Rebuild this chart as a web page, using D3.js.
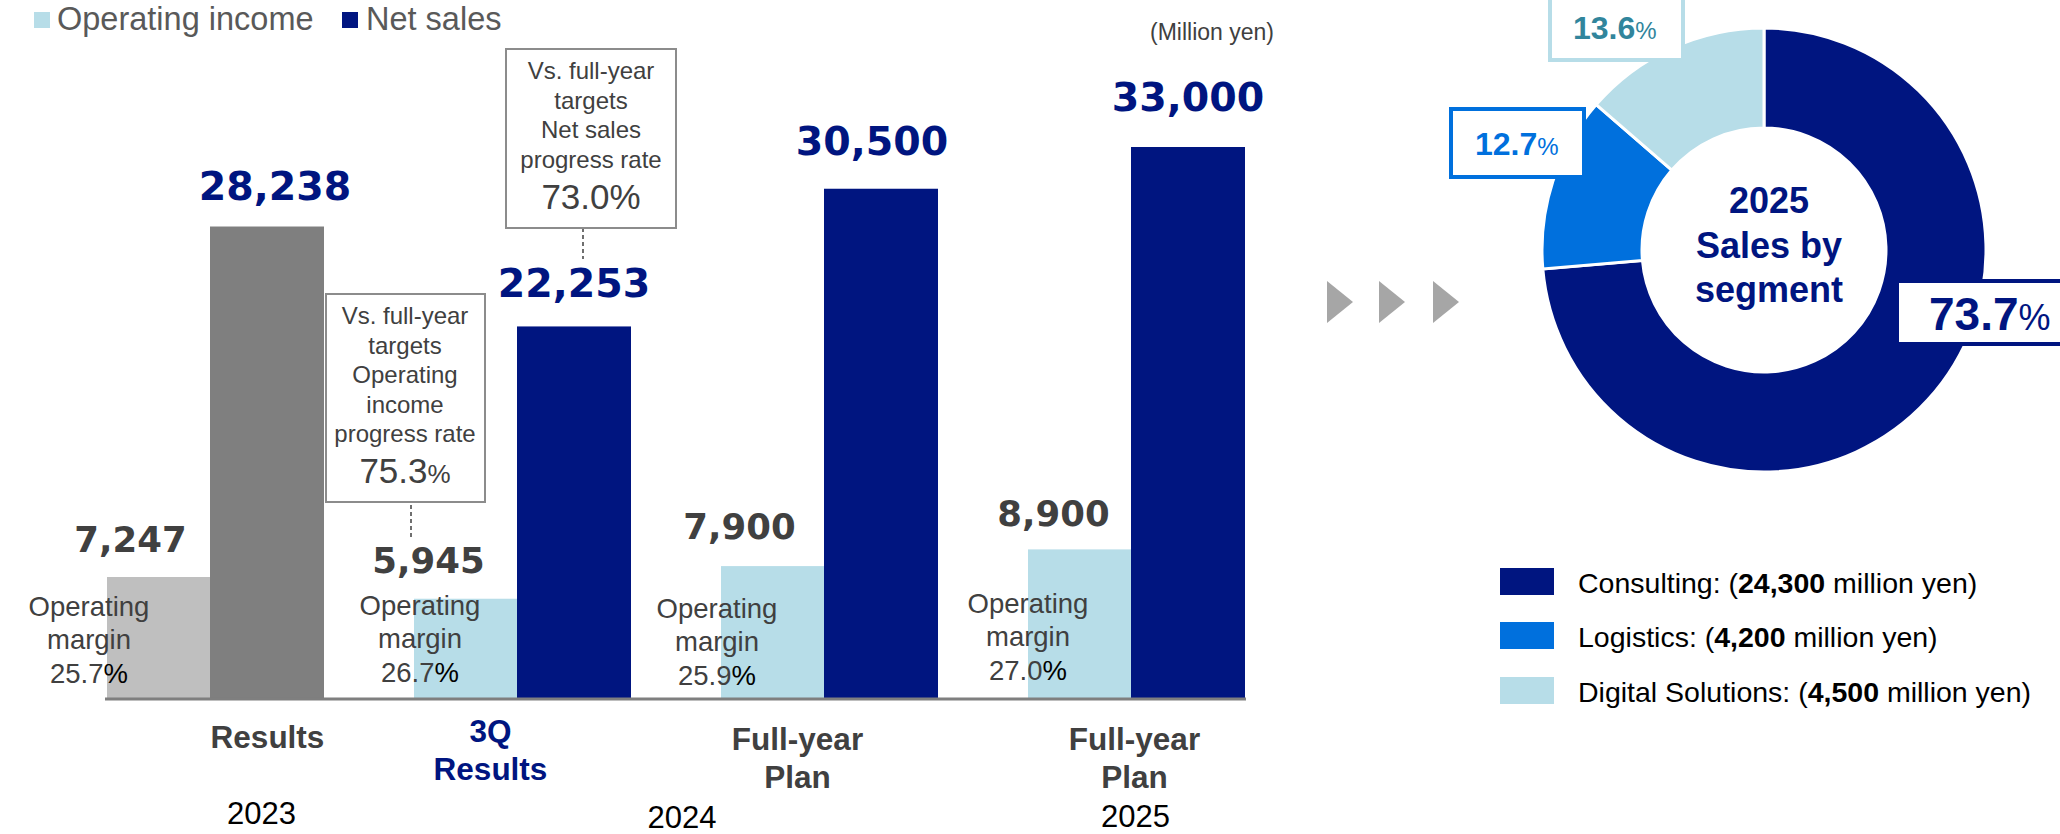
<!DOCTYPE html>
<html>
<head>
<meta charset="utf-8">
<script src="https://cdn.jsdelivr.net/npm/d3@7"></script>
<style>
  html, body { margin: 0; padding: 0; background: #fff; }
  svg { display: block; }
  text { font-family: "Liberation Sans", Arial, sans-serif; }
</style>
</head>
<body>
<svg id="chart" width="2060" height="834"></svg>
<script>
// ---------------- DATA ----------------
const categories = ["2023 Results", "2024 3Q Results", "2024 Full-year Plan", "2025 Full-year Plan"];
const categoryLines = [["Results"], ["3Q", "Results"], ["Full-year", "Plan"], ["Full-year", "Plan"]];
const netSales = [28238, 22253, 30500, 33000];
const operatingIncome = [7247, 5945, 7900, 8900];
const operatingMargin = ["25.7", "26.7", "25.9", "27.0"];
const years = ["2023", "2024", "2025"];
const progressOperatingIncome = "75.3";
const progressNetSales = "73.0";
const seriesNames = ["Operating income", "Net sales"];
const segments = ["Consulting", "Logistics", "Digital Solutions"];
const segmentSales = [24300, 4200, 4500];
const segmentShare = ["73.7", "12.7", "13.6"];
const donutTitle = ["2025", "Sales by", "segment"];
const unitLabel = "(Million yen)";

// ---------------- STYLE / LAYOUT ----------------
const NAVY = "#001580", LIGHT = "#b7dde8", BLUE = "#0070dd", TEAL = "#31859c";
const DARKGRAY = "#7f7f7f", LIGHTGRAY = "#bfbfbf", TXT = "#404040";
const segColors = [NAVY, BLUE, LIGHT];
const svg = d3.select("#chart");

const x = d3.scaleBand().domain(categories).range([107, 1245]).paddingInner(1 - 217 / 307).paddingOuter(0);
const y = d3.scaleLinear().domain([0, 33000]).range([698, 147]);
const opFrac = 103 / 217;

const catLabelDx = [52, -32, -32, -2];
const catLabelY = [748, 742, 750, 750];
const netLabelDx = [8, 0, -9, 0];
const netLabelDy = [-27, -29, -34, -36];
const opLabelDx = [-28, -37, -33, -26];
const opLabelDy = [-25, -26, -27, -23];
const marginDx = [-18, 6, -4, 0];
const marginDy = [0, -1, 2, -3];

const rows = categories.map((c, i) => ({
  c, i, net: netSales[i], op: operatingIncome[i], margin: operatingMargin[i]
}));
const opX = d => x(d.c);
const opW = () => x.bandwidth() * opFrac;
const netX = d => x(d.c) + opW();
const netW = () => x.bandwidth() - opW();

// ---------------- LEGEND (top) ----------------
const lg = svg.append("g");
const legendPos = [{sx: 34, tx: 57}, {sx: 342, tx: 366}];
seriesNames.forEach((s, i) => {
  lg.append("rect").attr("x", legendPos[i].sx).attr("y", 12).attr("width", 16).attr("height", 16)
    .attr("fill", i === 0 ? LIGHT : NAVY);
  lg.append("text").attr("x", legendPos[i].tx).attr("y", 30).attr("font-size", 32.5)
    .attr("fill", "#595959").text(s);
});
svg.append("text").attr("x", 1274).attr("y", 40).attr("text-anchor", "end")
  .attr("font-size", 23).attr("fill", TXT).text(unitLabel);

// ---------------- BARS ----------------
svg.append("g").selectAll("rect").data(rows).join("rect")
  .attr("x", opX).attr("width", opW)
  .attr("y", d => y(d.op)).attr("height", d => y(0) - y(d.op))
  .attr("fill", d => d.i === 0 ? LIGHTGRAY : LIGHT);
svg.append("g").selectAll("rect").data(rows).join("rect")
  .attr("x", netX).attr("width", netW)
  .attr("y", d => y(d.net)).attr("height", d => y(0) - y(d.net))
  .attr("fill", d => d.i === 0 ? DARKGRAY : NAVY);

// axis line
const axis = d3.axisBottom(x).tickSize(0).tickFormat("");
const ax = svg.append("g").attr("transform", "translate(0,699)").call(axis);
ax.select(".domain").attr("stroke", DARKGRAY).attr("stroke-width", 3)
  .attr("d", "M105,0H1246");

// value labels
const fmt = d3.format(",");
svg.append("g").selectAll("text").data(rows).join("text")
  .attr("x", d => netX(d) + netW() / 2 + netLabelDx[d.i])
  .attr("y", d => y(d.net) + netLabelDy[d.i])
  .attr("text-anchor", "middle").attr("font-weight", "bold")
  .attr("font-size", 39.5).attr("fill", NAVY).style("font-family", "'DejaVu Sans'")
  .text(d => fmt(d.net));
svg.append("g").selectAll("text").data(rows).join("text")
  .attr("x", d => opX(d) + opW() / 2 + opLabelDx[d.i])
  .attr("y", d => y(d.op) + opLabelDy[d.i])
  .attr("text-anchor", "middle").attr("font-weight", "bold")
  .attr("font-size", 35.5).attr("fill", TXT).style("font-family", "'DejaVu Sans'")
  .text(d => fmt(d.op));

// operating margin texts
rows.forEach(d => {
  const cx = opX(d) + marginDx[d.i];
  const by = 616 + marginDy[d.i];
  const g = svg.append("g").attr("font-size", 27.5).attr("fill", TXT).attr("text-anchor", "middle");
  g.append("text").attr("x", cx).attr("y", by).text("Operating");
  g.append("text").attr("x", cx).attr("y", by + 33).text("margin");
  const t = g.append("text").attr("x", cx).attr("y", by + 67);
  t.append("tspan").text(d.margin);
  t.append("tspan").attr("fill", "#000").text("%");
});

// category labels
rows.forEach(d => {
  const cx = x(d.c) + x.bandwidth() / 2 + catLabelDx[d.i];
  const t = svg.append("text").attr("text-anchor", "middle").attr("font-weight", "bold")
    .attr("font-size", 31.5).attr("fill", d.i === 1 ? NAVY : TXT);
  categoryLines[d.i].forEach((ln, k) => {
    t.append("tspan").attr("x", cx).attr("y", catLabelY[d.i] + k * 38).text(ln);
  });
});

// year labels
const yearX = [
  x(categories[0]) + x.bandwidth() / 2 + catLabelDx[0] - 6,
  (x(categories[1]) + x(categories[2])) / 2 + x.bandwidth() / 2 + 6,
  x(categories[3]) + x.bandwidth() / 2 - 1
];
const yearY = [824, 828, 827];
years.forEach((yr, i) => {
  svg.append("text").attr("x", yearX[i]).attr("y", yearY[i]).attr("text-anchor", "middle")
    .attr("font-size", 31).attr("fill", "#000").text(yr);
});

// ---------------- CALLOUT BOXES ----------------
function callout(bx, by, bw, bh, lines, big, pctSmall, cx, lineX, lineY0, lineY1) {
  svg.append("line").attr("x1", lineX).attr("x2", lineX).attr("y1", lineY0).attr("y2", lineY1)
    .attr("stroke", TXT).attr("stroke-width", 1.5).attr("stroke-dasharray", "4,3");
  svg.append("rect").attr("x", bx).attr("y", by).attr("width", bw).attr("height", bh)
    .attr("fill", "#fff").attr("stroke", "#8c8c8c").attr("stroke-width", 2);
  lines.forEach((ln, k) => {
    svg.append("text").attr("x", cx).attr("y", by + 30 + k * 29.5).attr("text-anchor", "middle")
      .attr("font-size", 24).attr("fill", TXT).text(ln);
  });
  const t = svg.append("text").attr("x", cx).attr("y", by + 30 + (lines.length - 1) * 29.5 + 41)
    .attr("text-anchor", "middle").attr("font-size", 35).attr("fill", TXT);
  t.append("tspan").text(big);
  t.append("tspan").attr("font-size", pctSmall ? 26 : 35).text("%");
}
callout(326, 294, 159, 208, ["Vs. full-year", "targets", "Operating", "income", "progress rate"],
  progressOperatingIncome, true, 405, 411, 505, 537);
callout(506, 49, 170, 179, ["Vs. full-year", "targets", "Net sales", "progress rate"],
  progressNetSales, false, 591, 583, 228, 259);

// ---------------- ARROWS ----------------
[1327, 1379, 1433].forEach(ax0 => {
  svg.append("path").attr("d", `M${ax0},281L${ax0 + 26},302L${ax0},323Z`).attr("fill", "#a6a6a6");
});

// ---------------- DONUT ----------------
const cxD = 1764, cyD = 250, rOut = 222, rIn = 122;
const pie = d3.pie().sort(null).value(d => d);
const arc = d3.arc().innerRadius(rIn).outerRadius(rOut);
const dg = svg.append("g").attr("transform", `translate(${cxD},${cyD})`);
dg.selectAll("path").data(pie(segmentSales)).join("path")
  .attr("d", arc).attr("fill", (d, i) => segColors[i])
  .attr("stroke", "#fff").attr("stroke-width", 3);
donutTitle.forEach((ln, k) => {
  dg.append("text").attr("x", 5).attr("y", -37 + k * 44.5).attr("text-anchor", "middle")
    .attr("font-size", 36).attr("font-weight", "bold").attr("fill", NAVY).text(ln);
});

// donut labels
const donutLabels = [
  {bx: 1897, by: 281, bw: 170, bh: 63, tx: 1929, ty: 330, fs: 46, ps: 36, col: NAVY, border: NAVY},
  {bx: 1451, by: 109, bw: 133, bh: 68, tx: 1475, ty: 155, fs: 32, ps: 24, col: BLUE, border: BLUE},
  {bx: 1550, by: -6, bw: 133, bh: 66, tx: 1573, ty: 39, fs: 32, ps: 24, col: TEAL, border: LIGHT}
];
donutLabels.forEach((L, i) => {
  svg.append("rect").attr("x", L.bx).attr("y", L.by).attr("width", L.bw).attr("height", L.bh)
    .attr("fill", "#fff").attr("stroke", L.border).attr("stroke-width", 4);
  const t = svg.append("text").attr("x", L.tx).attr("y", L.ty).attr("fill", L.col);
  t.append("tspan").attr("font-size", L.fs).attr("font-weight", "bold").text(segmentShare[i]);
  t.append("tspan").attr("font-size", L.ps).text("%");
});

// bottom-right legend
segments.forEach((s, i) => {
  const yy = [568, 622, 677][i];
  svg.append("rect").attr("x", 1500).attr("y", yy).attr("width", 54).attr("height", 27).attr("fill", segColors[i]);
  const t = svg.append("text").attr("x", 1578).attr("y", yy + 25).attr("font-size", 28.5).attr("fill", "#000");
  t.append("tspan").text(s + ": (");
  t.append("tspan").attr("font-weight", "bold").text(fmt(segmentSales[i]));
  t.append("tspan").text(" million yen)");
});
</script>
</body>
</html>
